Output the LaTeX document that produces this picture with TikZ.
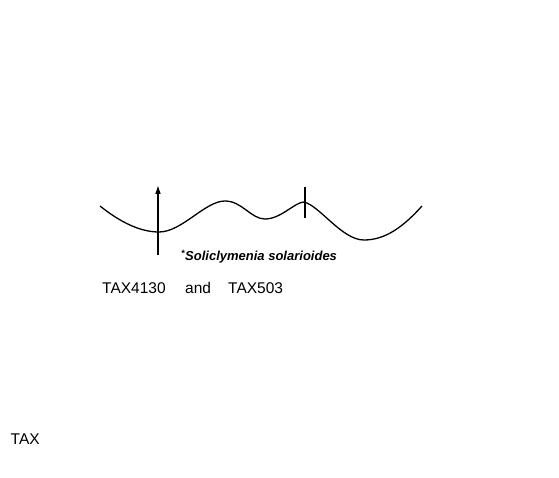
\documentclass[tikz,border=0pt]{standalone}
\usepackage{fontspec}
\setmainfont{Liberation Sans}
\usetikzlibrary{arrows.meta}

\tikzset{
  taxlabel/.style={inner sep=0pt, anchor=base west, font=\fontsize{15.5}{18}\selectfont},
  speclabel/.style={inner sep=0pt, anchor=base west, font=\fontsize{13}{15}\selectfont\bfseries\itshape},
  wave/.style={line width=1.3pt},
  marker/.style={line width=1.3pt}
}

\begin{document}
\begin{tikzpicture}[x=1pt, y=-1pt]
  \useasboundingbox (0,0) rectangle (559,478);

  % the section line
  \draw[wave] (100,206) .. controls (120,222) and (140,232) .. (159,232)
    .. controls (182,232) and (205,201) .. (225,201)
    .. controls (242,201) and (251,219) .. (265,219)
    .. controls (281,219) and (295,202) .. (304,202)
    .. controls (320,206) and (342,240) .. (364,240)
    .. controls (386,240) and (404,226) .. (422,206);

  % position markers
  \coordinate (arrbot) at (158,255);
  \coordinate (arrtop) at (158,186);
  \draw[marker, -{Triangle[width=5pt,length=8pt]}] (arrbot) -- (arrtop);

  \coordinate (ticktop) at (305,187);
  \coordinate (tickbot) at (305,218);
  \draw[marker] (ticktop) -- (tickbot);

  % labels
  \node[speclabel] (species) at (181,261) {\textsuperscript{*}Soliclymenia solarioides};
  \node[taxlabel] (taxa) at (102,293.5) {TAX4130};
  \node[taxlabel] (and) at (185,293.5) {and};
  \node[taxlabel] (taxb) at (228,293.5) {TAX503};
  \node[taxlabel] (tax) at (10.5,444) {TAX};
\end{tikzpicture}
\end{document}
